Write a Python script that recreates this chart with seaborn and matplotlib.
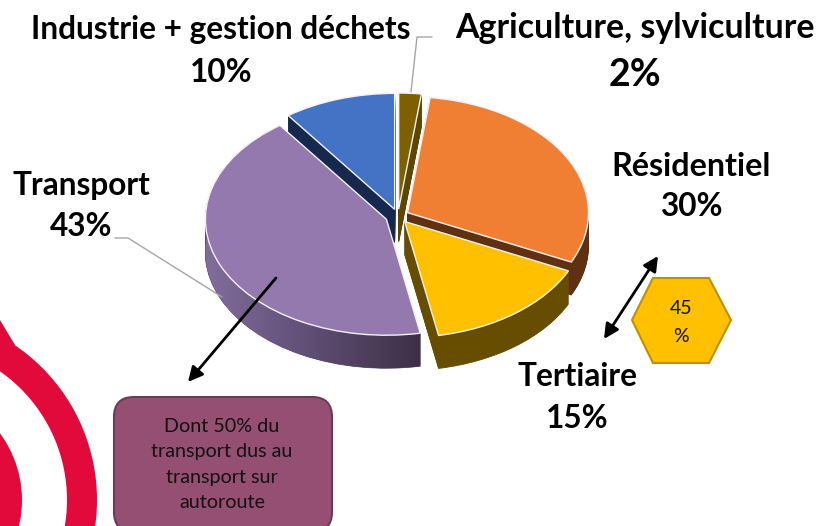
import numpy as np
import seaborn as sns
import matplotlib.pyplot as plt
from matplotlib.colors import LinearSegmentedColormap
from matplotlib.patches import Circle, FancyBboxPatch, Polygon

# Pie values, clockwise from the top
categories = ['Agriculture, sylviculture', 'Résidentiel', 'Tertiaire', 'Transport', 'Industrie + gestion déchets']
shares = [2, 30, 15, 43, 10]
share_labels = ['2%', '30%', '15%', '43%', '10%']

top_colors = sns.color_palette(['#7f6000', '#f07f33', '#ffc000', '#9479ae', '#4472c4'])
wall_colors = sns.color_palette(['#5c4600', '#5f3111', '#664d00', '#5f4d74', '#17284f'])

sns.set_theme(style='white')
plt.rcParams['font.family'] = ['Lato', 'DejaVu Sans']

W, H = 822, 526
fig = plt.figure(figsize=(W / 100, H / 100), dpi=100)

# pie axes: unit circle is stretched into the ellipse of the tilted pie
cx, cy, rx, ry = 398, 216, 181, 116
depth = 33 / ry
xlim = (-cx / rx, (W - cx) / rx)
ylim = ((cy - H) / ry, cy / ry)
explode = [0.06, 0.06, 0.06, 0.07, 0.06]

ax = fig.add_axes([0, 0, 1, 1])

# px axes for everything around the pie, same coordinates as the picture
ax_px = fig.add_axes([0, 0, 1, 1], zorder=3)
ax_px.set_xlim(0, W)
ax_px.set_ylim(H, 0)
ax_px.axis('off')

# walls: stack of the same pie going down
for k in np.arange(33, 0, -1):
    layer, _ = ax.pie(shares, colors=wall_colors, startangle=90, counterclock=False, explode=explode,
                      center=(0, -k / ry), wedgeprops={'linewidth': 0.6, 'zorder': 1})
    for p in layer:
        p.set_edgecolor(p.get_facecolor())

# top surface
wedges, _ = ax.pie(shares, colors=top_colors, startangle=90, counterclock=False, explode=explode,
                   wedgeprops={'linewidth': 1.0, 'edgecolor': '#f4f1f6', 'zorder': 3})

# gradient on the outer wall of the transport slice
w = wedges[3]
t = np.radians(np.linspace(w.theta1, w.theta2, 120))
px = w.center[0] + w.r * np.cos(t)
py = w.center[1] + w.r * np.sin(t)
outline = np.column_stack([np.r_[px, px[::-1]], np.r_[py, py[::-1] - depth]])
cmap = LinearSegmentedColormap.from_list('wall', ['#826d9c', '#5f4d74', '#3d3045'])
img = ax.imshow(np.linspace(0, 1, 256).reshape(1, -1), extent=(px.min(), px.max(), -2, 2),
                aspect='auto', cmap=cmap, zorder=2)
img.set_clip_path(Polygon(outline, transform=ax.transData))

ax.set_aspect('auto')
ax.set_xlim(*xlim)
ax.set_ylim(*ylim)
ax.axis('off')

# red rings bottom left
red = '#e20a3b'
ax_px.add_patch(Circle((-90, 500), 172, fill=False, edgecolor=red, lw=21.6))
ax_px.add_patch(Circle((-90, 500), 112, facecolor=red, edgecolor='none'))
ax_px.add_patch(Polygon([(0, 320), (15, 345), (0, 352)], facecolor=red, edgecolor='none'))

# leader lines
grey = '#a6a6a6'
ax_px.plot([411, 417, 432], [92, 37, 37], color=grey, lw=1)
ax_px.plot([115, 128, 222], [238, 238, 297], color=grey, lw=1, zorder=1)

# labels
bold = dict(ha='center', va='center', fontweight='bold', color='black', fontsize=22.8)
ax_px.text(221, 29, categories[4], **bold)
ax_px.text(221, 72, share_labels[4], **bold)
ax_px.text(635, 28, categories[0], **{**bold, 'fontsize': 24.4})
ax_px.text(635, 75, share_labels[0], **{**bold, 'fontsize': 27})
ax_px.text(691, 167, categories[1], **{**bold, 'fontsize': 23.2})
ax_px.text(691, 207, share_labels[1], **bold)
ax_px.text(81, 186, categories[3], **bold)
ax_px.text(81, 227, share_labels[3], **bold)
ax_px.text(577, 376, categories[2], **bold)
ax_px.text(577, 419, share_labels[2], **bold)

# arrows
ax_px.annotate('', xy=(188, 382), xytext=(276, 278),
               arrowprops=dict(arrowstyle='-|>', mutation_scale=22, lw=2, color='black', shrinkA=0, shrinkB=0))
ax_px.annotate('', xy=(604, 339), xytext=(658, 256),
               arrowprops=dict(arrowstyle='<|-|>', mutation_scale=22, lw=2, color='black', shrinkA=0, shrinkB=0))

# hexagon
ax_px.add_patch(Polygon([(632, 320), (653, 278), (709, 278), (731, 320), (709, 363), (653, 363)],
                        facecolor='#ffc000', edgecolor='#bf9000', lw=1.5))
ax_px.text(681, 309, '45', ha='center', va='center', fontsize=14, color='#111111')
ax_px.text(681, 336, '%', ha='center', va='center', fontsize=14, color='#111111')

# note box
ax_px.add_patch(FancyBboxPatch((114, 397), 218, 135, boxstyle='round,pad=0,rounding_size=20',
                               facecolor='#954f72', edgecolor='#6d3a54', lw=1.5))
for y, line in zip([426, 452, 477, 503], ['Dont 50% du', 'transport dus au', 'transport sur', 'autoroute']):
    ax_px.text(222, y, line, ha='center', va='center', fontsize=14.2, color='#111111')

fig.savefig('out.png', dpi=100)
